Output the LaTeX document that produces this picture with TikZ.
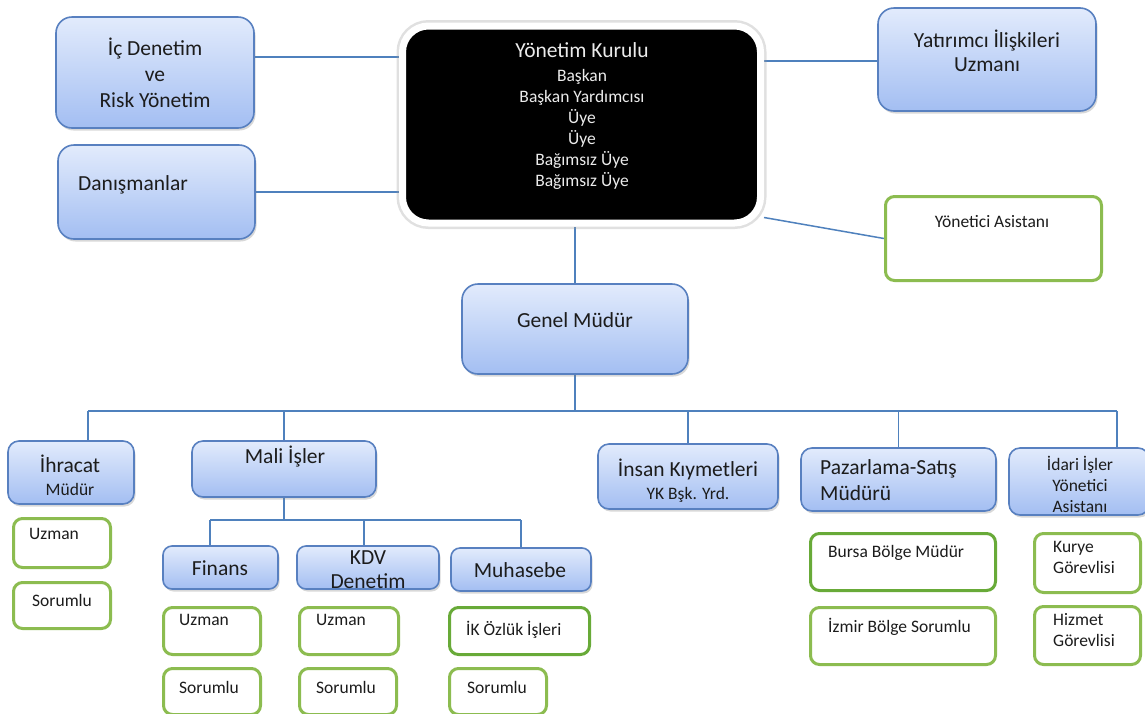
\documentclass[tikz,border=0pt]{standalone}
\usepackage{fontspec}
\setmainfont{Carlito}
\usetikzlibrary{shadows,backgrounds}
\definecolor{lnc}{RGB}{79,129,189}
\definecolor{bdr}{RGB}{88,128,192}
\definecolor{btop}{RGB}{226,235,252}
\definecolor{bbot}{RGB}{163,190,242}
\definecolor{gra}{RGB}{140,188,80}
\definecolor{grb}{RGB}{104,170,56}
\definecolor{tc}{RGB}{28,28,28}
\definecolor{wtc}{RGB}{235,235,235}
\newcommand\lgf{\fontsize{21.5}{26}\selectfont}
\newcommand\smf{\fontsize{17.5}{21}\selectfont}
\begin{document}
\begin{tikzpicture}[x=1pt,y=-1pt,
  bluebox/.style={draw=bdr, line width=1.6pt, rounded corners=#1, top color=btop, bottom color=bbot, inner sep=0, drop shadow={shadow xshift=1.5pt, shadow yshift=-2.5pt, opacity=0.3}, text=tc, align=center, font=\lgf},
  bluebox/.default=14pt,
  greenbox/.style={draw=gra, line width=3pt, rounded corners=9pt, fill=white, inner sep=0},
  txt/.style={inner sep=0, text=tc, align=center, font=\lgf},
  stxt/.style={inner sep=0, text=tc, align=left, font=\smf},
  conn/.style={draw=lnc, line width=1.5pt}]
\useasboundingbox (0,0) rectangle (1145,713);
\begin{pgfonlayer}{background}
\fill[white] (0,0) rectangle (1145,713);
\end{pgfonlayer}

% board
\node[fill=black, draw=white, line width=7pt, rounded corners=26pt, minimum width=358, minimum height=197,
  preaction={draw=black!40, line width=12pt, opacity=0.3}] (yk) at (581.5,124.5) {};
\node[inner sep=0, text=wtc, align=center, font=\smf] (ykT) at (582,116)
  {{\lgf Yönetim Kurulu}\\[3pt]Başkan\\Başkan Yardımcısı\\Üye\\Üye\\Bağımsız Üye\\Bağımsız Üye};

% upper blue boxes
\node[bluebox=16pt, minimum width=198, minimum height=111] (ic) at (155,72.5) {İç Denetim\\ve\\Risk Yönetim};
\node[bluebox=16pt, minimum width=197, minimum height=94] (dan) at (156.5,192) {};
\node[txt, anchor=west] (danT) at (78,185) {Danışmanlar};
\node[bluebox=16pt, minimum width=218, minimum height=103] (yat) at (987,59.5) {};
\node[txt] (yatT) at (987,51) {Yatırımcı İlişkileri\\[-2pt]Uzmanı};
\node[greenbox, minimum width=216, minimum height=84] (yon) at (993.5,238.5) {};
\node[stxt] (yonT) at (992,222) {Yönetici Asistanı};

\node[bluebox=16pt, minimum width=226, minimum height=90] (gm) at (575,329) {};
\node[txt] (gmT) at (575,320) {Genel Müdür};

% second level
\node[bluebox=11pt, minimum width=126, minimum height=63] (ihr) at (71,472.5) {};
\node[txt] (ihrT) at (70,475) {İhracat\\[-3pt]{\smf Müdür}};
\node[bluebox=11pt, minimum width=184, minimum height=56] (mali) at (284,469) {};
\node[txt] (maliT) at (285,457) {Mali İşler};
\node[bluebox=11pt, minimum width=180, minimum height=65] (ins) at (688,476.5) {};
\node[txt] (insT) at (688,481) {İnsan Kıymetleri\\[-3pt]{\smf YK Bşk. Yrd.}};
\node[bluebox=11pt, minimum width=195, minimum height=63] (paz) at (898.5,479.5) {};
\node[txt, anchor=west, align=left] (pazT) at (820,480) {Pazarlama-Satış\\Müdürü};
\node[bluebox=11pt, minimum width=140, minimum height=67] (ida) at (1079,481.5) {};
\node[stxt, align=center] (idaT) at (1080,484) {İdari İşler\\Yönetici\\Asistanı};

% third level
\node[bluebox=9pt, minimum width=115, minimum height=43] (fin) at (220.5,567.5) {};
\node[txt] (finT) at (220,568) {Finans};
\node[bluebox=9pt, minimum width=142, minimum height=43] (kdv) at (368,567.5) {};
\node[txt] (kdvT) at (368,570) {KDV\\[-2pt]Denetim};
\node[bluebox=9pt, minimum width=140, minimum height=43] (muh) at (521,569.5) {};
\node[txt] (muhT) at (520,570) {Muhasebe};

% green boxes
\node[greenbox, minimum width=97, minimum height=49] (ihrU) at (62,543) {};
\node[stxt, anchor=west] (ihrUT) at (29,534) {Uzman};
\node[greenbox, minimum width=97, minimum height=46] (ihrS) at (62,605.5) {};
\node[stxt, anchor=west] (ihrST) at (32,600) {Sorumlu};
\node[greenbox, minimum width=97, minimum height=47] (finU) at (212,631) {};
\node[stxt, anchor=west] (finUT) at (179,620) {Uzman};
\node[greenbox, minimum width=97, minimum height=46] (finS) at (212,691.5) {};
\node[stxt, anchor=west] (finST) at (179,687) {Sorumlu};
\node[greenbox, minimum width=99, minimum height=47] (kdvU) at (349,631) {};
\node[stxt, anchor=west] (kdvUT) at (316,620) {Uzman};
\node[greenbox, minimum width=97, minimum height=46] (kdvS) at (348,691.5) {};
\node[stxt, anchor=west] (kdvST) at (316,687) {Sorumlu};
\node[greenbox, draw=grb, minimum width=140, minimum height=47] (muhI) at (519.5,631) {};
\node[stxt, anchor=west] (muhIT) at (466,630) {İK Özlük İşleri};
\node[greenbox, minimum width=97, minimum height=46] (muhS) at (498,691.5) {};
\node[stxt, anchor=west] (muhST) at (467,687) {Sorumlu};
\node[greenbox, draw=grb, minimum width=185, minimum height=57] (bur) at (903,562) {};
\node[stxt, anchor=west] (burT) at (828,553) {Bursa Bölge Müdür};
\node[greenbox, minimum width=185, minimum height=57] (izm) at (903,636) {};
\node[stxt, anchor=west] (izmT) at (828,627) {İzmir Bölge Sorumlu};
\node[greenbox, minimum width=106, minimum height=59] (kur) at (1087.5,563) {};
\node[stxt, anchor=west] (kurT) at (1053,557.5) {Kurye\\Görevlisi};
\node[greenbox, minimum width=106, minimum height=58] (hiz) at (1087.5,635.5) {};
\node[stxt, anchor=west] (hizT) at (1053,630) {Hizmet\\Görevlisi};

% connector coordinates
\coordinate (l1) at (0,57);
\coordinate (l3) at (0,61);
\coordinate (bus) at (0,411);
\coordinate (d1) at (88,411);
\coordinate (d5) at (1117,411);
\coordinate (s1) at (210,520);
\coordinate (s2) at (364,520);
\coordinate (s3) at (521,520);

\begin{pgfonlayer}{background}
\draw[conn] (ic.east |- l1) -- (yk.west |- l1);
\draw[conn] (dan.east) -- (yk.west |- dan.east);
\draw[conn] (yk.east |- l3) -- (yat.west |- l3);
\draw[conn] (yk.-27) -- (yon.west);
\draw[conn] (gm.north) -- (gm.north |- yk.south);
\draw[conn] (gm.south) -- (gm.south |- bus);
\draw[conn] (d1) -- (d5);
\draw[conn] (d1) -- (d1 |- ihr.north);
\draw[conn] (mali.north |- bus) -- (mali.north);
\draw[conn] (ins.north |- bus) -- (ins.north);
\draw[conn] (paz.north |- bus) -- (paz.north);
\draw[conn] (d5) -- (d5 |- ida.north);
\draw[conn] (mali.south) -- (mali.south |- s1);
\draw[conn] (s1) -- (s3);
\draw[conn] (s1) -- (s1 |- fin.north);
\draw[conn] (s2) -- (s2 |- kdv.north);
\draw[conn] (s3) -- (s3 |- muh.north);
\end{pgfonlayer}
\end{tikzpicture}
\end{document}
